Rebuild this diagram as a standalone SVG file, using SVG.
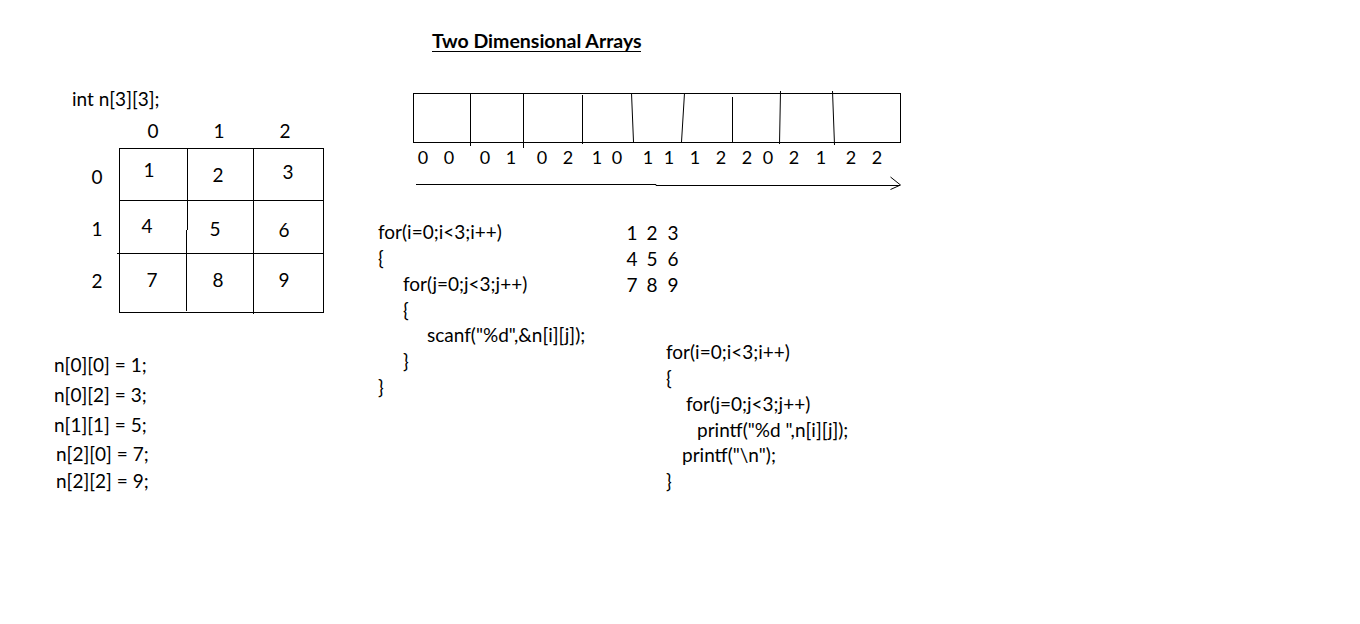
<svg xmlns="http://www.w3.org/2000/svg" width="1360" height="624" viewBox="0 0 1360 624">
<style>
text{font-family:Lato,"Open Sans","Liberation Sans",sans-serif;font-size:19px;fill:#000}
.c{text-anchor:middle}
.s{font-size:18px}
.t{font-weight:bold;font-size:19.5px}
.ln{stroke:#000;stroke-width:1;fill:none;shape-rendering:crispEdges}
.ar{stroke:#000;stroke-width:1;fill:none}
</style>
<rect width="1360" height="624" fill="#fff"/>
<g id="title">
<text class="t" x="432" y="48">Two Dimensional Arrays</text>
<line class="ln" x1="432" y1="51.5" x2="641" y2="51.5"/>
</g>
<g id="decl"><text x="72" y="106">int n[3][3];</text></g>
<g id="grid">
<rect class="ln" x="119.5" y="148.5" width="204" height="164"/>
<line class="ln" x1="117" y1="253.5" x2="323" y2="253.5"/>
<line class="ln" x1="119" y1="200.5" x2="323" y2="200.5"/>
<line class="ln" x1="187.5" y1="148" x2="187.5" y2="230"/>
<line class="ln" x1="186.5" y1="230" x2="186.5" y2="311"/>
<line class="ln" x1="253.5" y1="148" x2="253.5" y2="314"/>
<text class="c" x="153" y="138">0</text>
<text class="c" x="219" y="138">1</text>
<text class="c" x="285" y="138">2</text>
<text class="c" x="97" y="184">0</text>
<text class="c" x="97" y="236">1</text>
<text class="c" x="97" y="288">2</text>
<text class="c" x="149" y="177">1</text>
<text class="c" x="218" y="182">2</text>
<text class="c" x="288" y="179">3</text>
<text class="c" x="147" y="233">4</text>
<text class="c" x="215" y="236">5</text>
<text class="c" x="284" y="237">6</text>
<text class="c" x="152" y="287">7</text>
<text class="c" x="218" y="287">8</text>
<text class="c" x="284" y="287">9</text>
</g>
<g id="linear">
<rect class="ln" x="413.5" y="93.5" width="487" height="49"/>
<line class="ln" x1="470.5" y1="93" x2="470.5" y2="146"/>
<line class="ln" x1="523.5" y1="93" x2="523.5" y2="148"/>
<line class="ln" x1="582.5" y1="95" x2="582.5" y2="144"/>
<line class="ar" x1="631.5" y1="93" x2="633.5" y2="142"/>
<line class="ar" x1="684.5" y1="93" x2="681.5" y2="142"/>
<line class="ln" x1="732.5" y1="97" x2="732.5" y2="142"/>
<line class="ar" x1="780.5" y1="91" x2="779.5" y2="144"/>
<line class="ar" x1="832.5" y1="91" x2="834.5" y2="145"/>
<text class="c s" x="423" y="164">0</text><text class="c s" x="449" y="164">0</text>
<text class="c s" x="485" y="164">0</text><text class="c s" x="511" y="164">1</text>
<text class="c s" x="542" y="164">0</text><text class="c s" x="568" y="164">2</text>
<text class="c s" x="597" y="164">1</text><text class="c s" x="617" y="164">0</text>
<text class="c s" x="648" y="164">1</text><text class="c s" x="669" y="164">1</text>
<text class="c s" x="695" y="164">1</text><text class="c s" x="721" y="164">2</text>
<text class="c s" x="747" y="164">2</text><text class="c s" x="768" y="164">0</text>
<text class="c s" x="794" y="164">2</text><text class="c s" x="821" y="164">1</text>
<text class="c s" x="851" y="164">2</text><text class="c s" x="877" y="164">2</text>
</g>
<g id="connectors">
<polyline class="ar" points="416,184.5 656,184.5 656,185.5 900,185.5"/>
<polyline class="ar" points="890.5,177 900.5,185 890.5,189.5"/>
</g>
<g id="assign">
<text x="54" y="372">n[0][0] = 1;</text>
<text x="54" y="402">n[0][2] = 3;</text>
<text x="54" y="432">n[1][1] = 5;</text>
<text x="56" y="461">n[2][0] = 7;</text>
<text x="56" y="488">n[2][2] = 9;</text>
</g>
<g id="scan-code">
<text x="378" y="239">for(i=0;i&lt;3;i++)</text>
<text x="378" y="265">{</text>
<text x="403" y="291">for(j=0;j&lt;3;j++)</text>
<text x="403" y="317">{</text>
<text x="427" y="342">scanf("%d",&amp;n[i][j]);</text>
<text x="403" y="368">}</text>
<text x="378" y="394">}</text>
</g>
<g id="output">
<text class="c" x="632" y="240">1</text><text class="c" x="652" y="240">2</text><text class="c" x="673" y="240">3</text>
<text class="c" x="632" y="266">4</text><text class="c" x="652" y="266">5</text><text class="c" x="673" y="266">6</text>
<text class="c" x="632" y="292">7</text><text class="c" x="652" y="292">8</text><text class="c" x="673" y="292">9</text>
</g>
<g id="print-code">
<text x="666" y="359">for(i=0;i&lt;3;i++)</text>
<text x="666" y="385">{</text>
<text x="686" y="411">for(j=0;j&lt;3;j++)</text>
<text x="697" y="437">printf("%d ",n[i][j]);</text>
<text x="682" y="462">printf("\n");</text>
<text x="666" y="488">}</text>
</g>
</svg>
